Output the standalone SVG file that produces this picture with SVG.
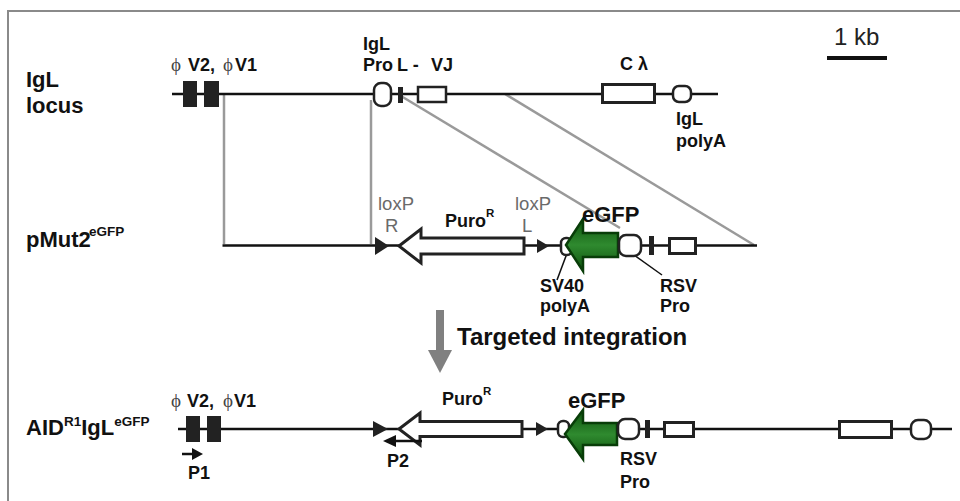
<svg xmlns="http://www.w3.org/2000/svg" width="960" height="501" viewBox="0 0 960 501">
<defs>
<style>
.frame{fill:none;stroke:#8a8a8a;stroke-width:2}
.bb{stroke:#111;stroke-width:2.5;fill:none}
.gl{stroke:#9a9a9a;stroke-width:2.5;fill:none}
.ex{fill:#fff;stroke:#222;stroke-width:2.5}
.ex3{fill:#fff;stroke:#222;stroke-width:3}
.blk{fill:#222}
.lead{stroke:#111;stroke-width:1.5}
.t{font-family:"Liberation Sans",Arial,sans-serif;font-weight:bold;fill:#111}
.s17{font-size:18px}
.s21{font-size:22px}
.phi{font-family:"Liberation Serif","DejaVu Serif",serif;font-weight:normal;font-size:19px;fill:#444}
.lox{font-family:"Liberation Sans",Arial,sans-serif;font-size:18.5px;fill:#6a6a6a}
.gfp{fill:url(#gfpGrad);stroke:#083d08;stroke-width:2.5}
</style>
<linearGradient id="gfpGrad" x1="0" y1="0" x2="0" y2="1">
<stop offset="0" stop-color="#0d520d"/>
<stop offset="0.5" stop-color="#2f8a2f"/>
<stop offset="1" stop-color="#0d520d"/>
</linearGradient>
</defs>
<rect x="0" y="0" width="960" height="501" fill="#fff"/>
<rect class="frame" x="8" y="11" width="960" height="500"/>

<g id="connectors">
<line class="gl" x1="224" y1="94" x2="224" y2="244"/>
<line class="gl" x1="371" y1="100" x2="371" y2="244"/>
<line class="gl" x1="401" y1="96" x2="620" y2="228"/>
<line class="gl" x1="505" y1="94" x2="754" y2="245"/>
<line class="bb" x1="172" y1="94" x2="718" y2="94"/>
<path class="bb" d="M222.5 245.5 H757"/>
<line class="bb" x1="178" y1="429" x2="952" y2="429"/>
<line class="lead" x1="557" y1="280" x2="569" y2="248"/>
<line class="lead" x1="627" y1="250" x2="662" y2="275"/>
</g>

<g id="labels-left">
<text class="t s21" x="26" y="87">IgL</text>
<text class="t s21" x="26" y="113">locus</text>
<text class="t s21" x="26" y="247">pMut2</text>
<text class="t" font-size="13.5" x="89" y="236">eGFP</text>
<text class="t s21" x="26" y="435">AID<tspan font-size="13.5" dy="-9">R1</tspan><tspan dy="9">IgL</tspan><tspan font-size="13.5" dy="-9">eGFP</tspan></text>
</g>

<g id="scalebar">
<text x="834" y="45" font-family="Liberation Sans, Arial, sans-serif" font-size="24" fill="#222">1 kb</text>
<line x1="827" y1="58" x2="887" y2="58" stroke="#111" stroke-width="4"/>
</g>

<g id="igl-locus">
<rect class="blk" x="183" y="81" width="14" height="26"/>
<rect class="blk" x="204" y="81" width="15" height="26"/>
<text class="phi" x="171" y="71">ϕ</text>
<text class="t s17" x="188" y="71">V2,</text>
<text class="phi" x="223" y="71">ϕ</text>
<text class="t s17" x="235" y="71">V1</text>
<rect class="ex" x="374" y="83" width="17" height="23" rx="7"/>
<rect class="blk" x="398" y="87" width="5" height="16"/>
<rect class="ex" x="418" y="87" width="28" height="15"/>
<text class="t s17" x="363" y="50">IgL</text>
<text class="t s17" x="363" y="71">Pro</text>
<text class="t s17" x="397" y="71">L -</text>
<text class="t s17" x="431" y="71">VJ</text>
<rect class="ex3" x="602.5" y="84.5" width="52" height="18"/>
<text class="t s17" x="620" y="70">C λ</text>
<rect class="ex" x="673" y="86" width="18" height="16" rx="6"/>
<text class="t s17" x="676" y="125">IgL</text>
<text class="t s17" x="676" y="147">polyA</text>
</g>

<g id="pmut2">
<polygon class="blk" points="375,237 389,246 375,255"/>
<text class="lox" x="378" y="210">loxP</text>
<text class="lox" x="385" y="232">R</text>
<polygon class="ex3" points="399,246 421,229 421,238 524,238 524,254 421,254 421,263"/>
<text class="t s17" x="445" y="227">Puro</text>
<text class="t" font-size="11.5" x="486" y="217">R</text>
<polygon class="blk" points="537,239 549,246 537,253"/>
<text class="lox" x="515" y="210">loxP</text>
<text class="lox" x="522" y="232">L</text>
<rect class="ex" x="561" y="238" width="11" height="17" rx="5"/>
<polygon class="gfp" points="566,245 583,219 583,233 618,233 618,257 583,257 583,271"/>
<rect class="ex" x="619" y="235" width="22" height="21" rx="7"/>
<rect class="blk" x="649" y="236" width="5" height="19"/>
<rect class="ex3" x="669.5" y="238.5" width="26" height="15"/>
<text class="t s21" x="582" y="222">eGFP</text>
<text class="t s17" x="540" y="292">SV40</text>
<text class="t s17" x="540" y="312">polyA</text>
<text class="t s17" x="660" y="292">RSV</text>
<text class="t s17" x="660" y="312">Pro</text>
</g>

<g id="targeted-integration">
<rect x="436" y="310" width="8" height="40" fill="#808080"/>
<polygon points="428,350 452,350 440,373" fill="#808080"/>
<text class="t" font-size="24" x="457" y="345">Targeted integration</text>
</g>

<g id="aid-igl">
<rect class="blk" x="186" y="416" width="14" height="26"/>
<rect class="blk" x="207" y="416" width="14" height="26"/>
<text class="phi" x="171" y="407">ϕ</text>
<text class="t s17" x="187" y="407">V2,</text>
<text class="phi" x="223" y="407">ϕ</text>
<text class="t s17" x="234" y="407">V1</text>
<line x1="182" y1="454" x2="193" y2="454" stroke="#111" stroke-width="2.5"/>
<polygon points="192,448 203,454 192,460" fill="#111"/>
<text class="t s17" x="188" y="479">P1</text>
<polygon class="blk" points="373,421 388,429 373,437"/>
<polygon class="ex3" points="399,429 420,413 420,421.5 522,421.5 522,436.5 420,436.5 420,445"/>
<text class="t s17" x="442" y="405">Puro</text>
<text class="t" font-size="11.5" x="483" y="395">R</text>
<line x1="395" y1="441" x2="422" y2="441" stroke="#111" stroke-width="2.5"/>
<polygon points="383,441 396,435 396,447" fill="#111"/>
<text class="t s17" x="387" y="467">P2</text>
<polygon class="blk" points="536,422 548,429 536,436"/>
<rect class="ex" x="558" y="421" width="11" height="16" rx="5"/>
<polygon class="gfp" points="565,434 583,410 583,423 617,423 617,445 583,445 583,459"/>
<rect class="ex" x="618" y="419" width="21" height="20" rx="7"/>
<rect class="blk" x="645" y="420" width="5" height="18"/>
<rect class="ex3" x="664.5" y="422.5" width="29" height="14"/>
<rect class="ex3" x="839.5" y="421.5" width="52" height="16"/>
<rect class="ex" x="911" y="420" width="20" height="19" rx="7"/>
<text class="t s21" x="568" y="408">eGFP</text>
<text class="t s17" x="620" y="465">RSV</text>
<text class="t s17" x="620" y="488">Pro</text>
</g>
</svg>
